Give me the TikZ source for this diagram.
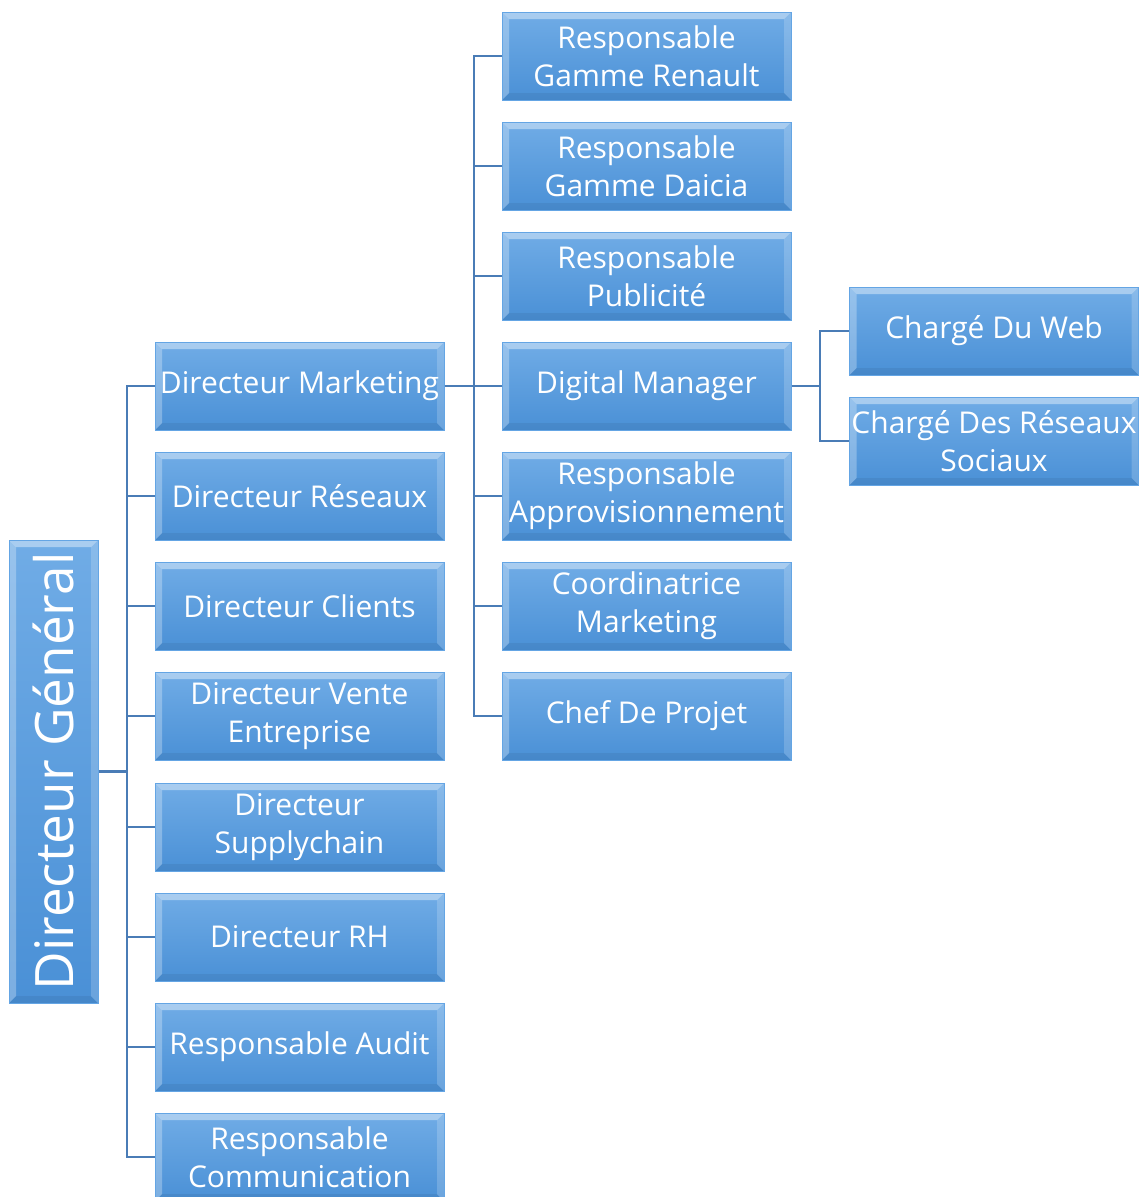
\documentclass[tikz,border=0pt]{standalone}
\usepackage{fontspec}
\setmainfont{Open Sans}
\definecolor{boxtop}{RGB}{112,172,230}
\definecolor{boxbot}{RGB}{74,144,214}
\definecolor{boxedge}{RGB}{100,165,228}
\definecolor{conn}{RGB}{74,124,182}
\tikzset{
  bevel/.style={path picture={
    \fill[white,opacity=.40] (path picture bounding box.north west) -- (path picture bounding box.north east)
      -- ([xshift=-7pt,yshift=-7pt]path picture bounding box.north east) -- ([xshift=7pt,yshift=-7pt]path picture bounding box.north west) -- cycle;
    \fill[white,opacity=.28] (path picture bounding box.north west) -- ([xshift=7pt,yshift=-7pt]path picture bounding box.north west)
      -- ([xshift=7pt,yshift=7pt]path picture bounding box.south west) -- (path picture bounding box.south west) -- cycle;
    \fill[black,opacity=.06] (path picture bounding box.south west) -- (path picture bounding box.south east)
      -- ([xshift=-7pt,yshift=7pt]path picture bounding box.south east) -- ([xshift=7pt,yshift=7pt]path picture bounding box.south west) -- cycle;
    \fill[white,opacity=.18] (path picture bounding box.north east) -- (path picture bounding box.south east)
      -- ([xshift=-7pt,yshift=7pt]path picture bounding box.south east) -- ([xshift=-7pt,yshift=-7pt]path picture bounding box.north east) -- cycle;
  }},
  obox/.style={bevel, draw=boxedge, line width=1pt, top color=boxtop, bottom color=boxbot,
    text=white, align=center, inner sep=0pt, minimum width=289pt, minimum height=88pt,
    font=\fontsize{30}{38}\selectfont},
  cline/.style={draw=conn, line width=2.8pt}
}
\begin{document}
\begin{tikzpicture}[x=1pt,y=-1pt]
\useasboundingbox (0,0) rectangle (1141,1197);
\coordinate (j1) at (127,771.5);
\coordinate (j2) at (474,386);
\coordinate (j3) at (820,386);
% nodes
\node[obox, minimum width=89pt, minimum height=463pt] (dg) at (53.5,771.5) {\rotatebox{90}{\fontsize{53}{60}\selectfont Directeur Général}};
\node[obox] (c1) at (299.5,386) {Directeur Marketing};
\node[obox] (c2) at (299.5,496) {Directeur Réseaux};
\node[obox] (c3) at (299.5,606) {Directeur Clients};
\node[obox] (c4) at (299.5,716) {Directeur Vente\\Entreprise};
\node[obox] (c5) at (299.5,827) {Directeur\\Supplychain};
\node[obox] (c6) at (299.5,937) {Directeur RH};
\node[obox] (c7) at (299.5,1047) {Responsable Audit};
\node[obox] (c8) at (299.5,1157) {Responsable\\Communication};
\node[obox] (m1) at (646.5,56) {Responsable\\Gamme Renault};
\node[obox] (m2) at (646.5,166) {Responsable\\Gamme Daicia};
\node[obox] (m3) at (646.5,276) {Responsable\\Publicité};
\node[obox] (m4) at (646.5,386) {Digital Manager};
\node[obox] (m5) at (646.5,496) {Responsable\\Approvisionnement};
\node[obox] (m6) at (646.5,606) {Coordinatrice\\Marketing};
\node[obox] (m7) at (646.5,716) {Chef De Projet};
\node[obox] (d1) at (994,331) {Chargé Du Web};
\node[obox] (d2) at (994,441) {Chargé Des Réseaux\\Sociaux};
% connectors
\draw[cline] (dg.east) -- (j1);
\foreach \n in {c1,c2,c3,c4,c5,c6,c7,c8} \draw[cline] (j1) |- (\n.west);
\draw[cline] (c1.east) -- (j2);
\foreach \n in {m1,m2,m3,m4,m5,m6,m7} \draw[cline] (j2) |- (\n.west);
\draw[cline] (m4.east) -- (j3);
\foreach \n in {d1,d2} \draw[cline] (j3) |- (\n.west);
\end{tikzpicture}
\end{document}
